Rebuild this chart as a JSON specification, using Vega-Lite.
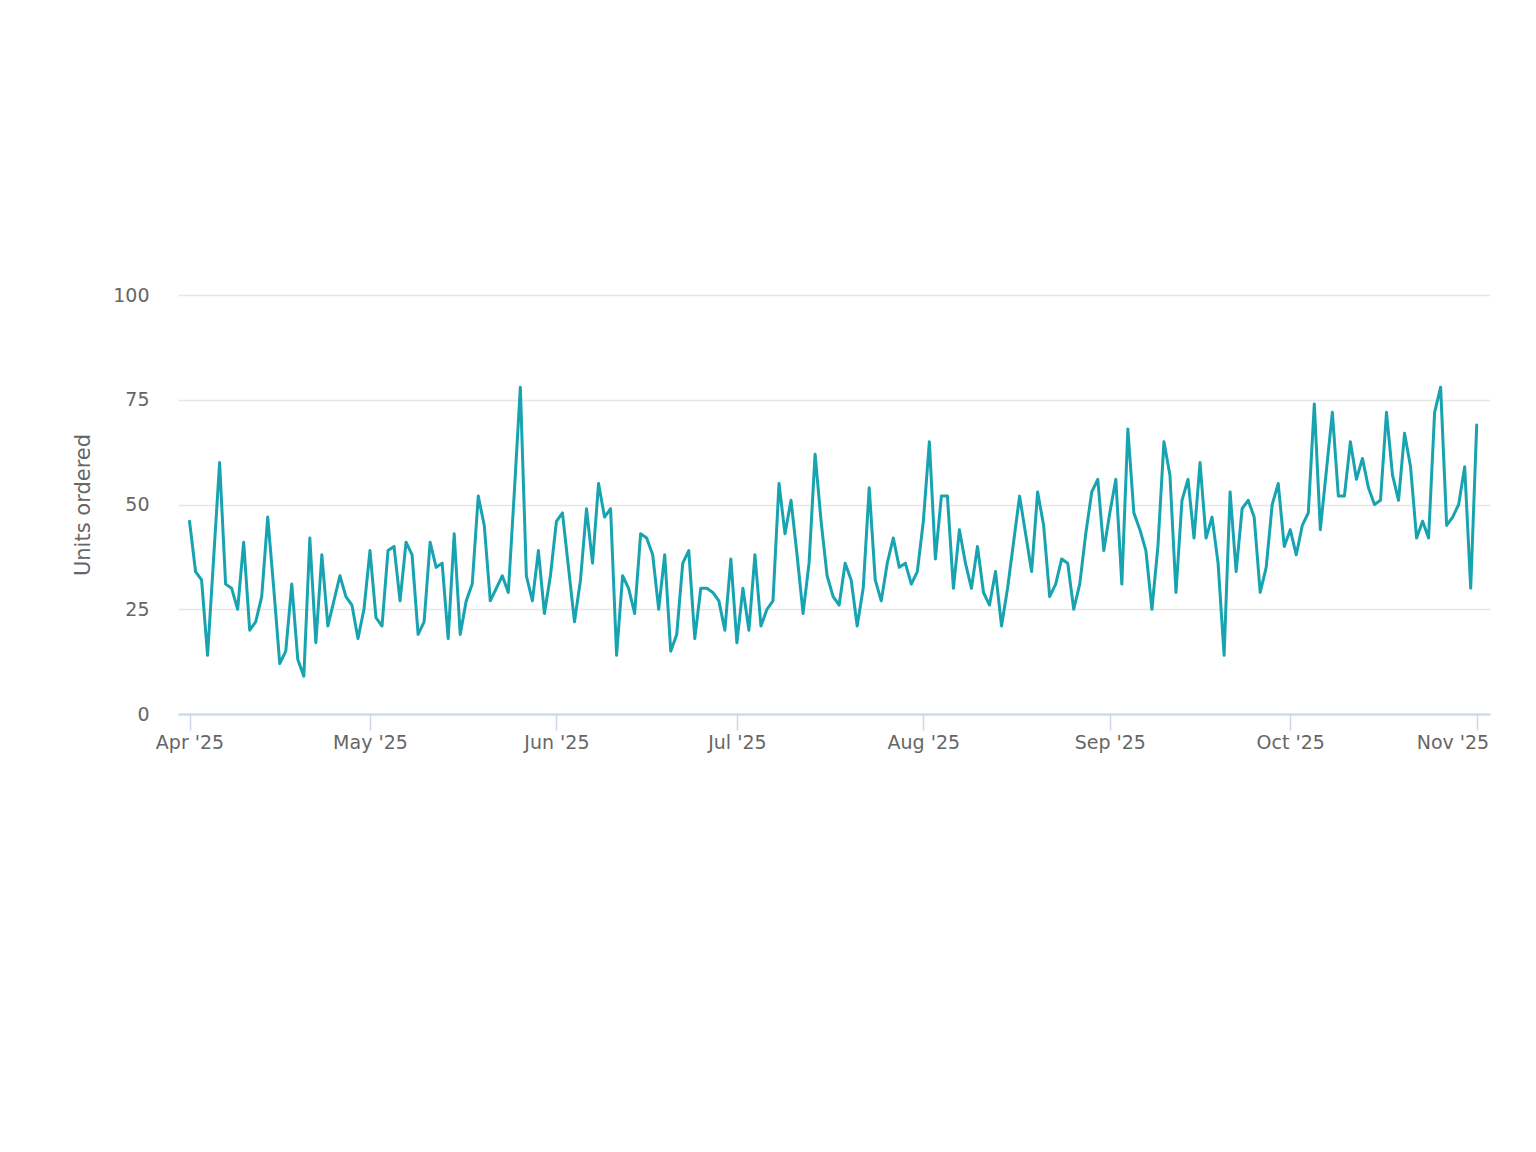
{
  "$schema": "https://vega.github.io/schema/vega-lite/v6.json",
  "description": "Units ordered per day",
  "width": 1312,
  "height": 419,
  "autosize": {"type": "none"},
  "padding": {"left": 178, "top": 295, "right": 46, "bottom": 438},
  "background": "#ffffff",
  "data": {
    "values": [
      {"date": "2025-04-01", "units": 46}, {"date": "2025-04-02", "units": 34}, {"date": "2025-04-03", "units": 32},
      {"date": "2025-04-04", "units": 14}, {"date": "2025-04-05", "units": 37}, {"date": "2025-04-06", "units": 60},
      {"date": "2025-04-07", "units": 31}, {"date": "2025-04-08", "units": 30}, {"date": "2025-04-09", "units": 25},
      {"date": "2025-04-10", "units": 41}, {"date": "2025-04-11", "units": 20}, {"date": "2025-04-12", "units": 22},
      {"date": "2025-04-13", "units": 28}, {"date": "2025-04-14", "units": 47}, {"date": "2025-04-15", "units": 30},
      {"date": "2025-04-16", "units": 12}, {"date": "2025-04-17", "units": 15}, {"date": "2025-04-18", "units": 31},
      {"date": "2025-04-19", "units": 13}, {"date": "2025-04-20", "units": 9}, {"date": "2025-04-21", "units": 42},
      {"date": "2025-04-22", "units": 17}, {"date": "2025-04-23", "units": 38}, {"date": "2025-04-24", "units": 21},
      {"date": "2025-04-25", "units": 27}, {"date": "2025-04-26", "units": 33}, {"date": "2025-04-27", "units": 28},
      {"date": "2025-04-28", "units": 26}, {"date": "2025-04-29", "units": 18}, {"date": "2025-04-30", "units": 25},
      {"date": "2025-05-01", "units": 39}, {"date": "2025-05-02", "units": 23}, {"date": "2025-05-03", "units": 21},
      {"date": "2025-05-04", "units": 39}, {"date": "2025-05-05", "units": 40}, {"date": "2025-05-06", "units": 27},
      {"date": "2025-05-07", "units": 41}, {"date": "2025-05-08", "units": 38}, {"date": "2025-05-09", "units": 19},
      {"date": "2025-05-10", "units": 22}, {"date": "2025-05-11", "units": 41}, {"date": "2025-05-12", "units": 35},
      {"date": "2025-05-13", "units": 36}, {"date": "2025-05-14", "units": 18}, {"date": "2025-05-15", "units": 43},
      {"date": "2025-05-16", "units": 19}, {"date": "2025-05-17", "units": 27}, {"date": "2025-05-18", "units": 31},
      {"date": "2025-05-19", "units": 52}, {"date": "2025-05-20", "units": 45}, {"date": "2025-05-21", "units": 27},
      {"date": "2025-05-22", "units": 30}, {"date": "2025-05-23", "units": 33}, {"date": "2025-05-24", "units": 29},
      {"date": "2025-05-25", "units": 53}, {"date": "2025-05-26", "units": 78}, {"date": "2025-05-27", "units": 33},
      {"date": "2025-05-28", "units": 27}, {"date": "2025-05-29", "units": 39}, {"date": "2025-05-30", "units": 24},
      {"date": "2025-05-31", "units": 33},
      {"date": "2025-06-01", "units": 46}, {"date": "2025-06-02", "units": 48}, {"date": "2025-06-03", "units": 35},
      {"date": "2025-06-04", "units": 22}, {"date": "2025-06-05", "units": 32}, {"date": "2025-06-06", "units": 49},
      {"date": "2025-06-07", "units": 36}, {"date": "2025-06-08", "units": 55}, {"date": "2025-06-09", "units": 47},
      {"date": "2025-06-10", "units": 49}, {"date": "2025-06-11", "units": 14}, {"date": "2025-06-12", "units": 33},
      {"date": "2025-06-13", "units": 30}, {"date": "2025-06-14", "units": 24}, {"date": "2025-06-15", "units": 43},
      {"date": "2025-06-16", "units": 42}, {"date": "2025-06-17", "units": 38}, {"date": "2025-06-18", "units": 25},
      {"date": "2025-06-19", "units": 38}, {"date": "2025-06-20", "units": 15}, {"date": "2025-06-21", "units": 19},
      {"date": "2025-06-22", "units": 36}, {"date": "2025-06-23", "units": 39}, {"date": "2025-06-24", "units": 18},
      {"date": "2025-06-25", "units": 30}, {"date": "2025-06-26", "units": 30}, {"date": "2025-06-27", "units": 29},
      {"date": "2025-06-28", "units": 27}, {"date": "2025-06-29", "units": 20}, {"date": "2025-06-30", "units": 37},
      {"date": "2025-07-01", "units": 17}, {"date": "2025-07-02", "units": 30}, {"date": "2025-07-03", "units": 20},
      {"date": "2025-07-04", "units": 38}, {"date": "2025-07-05", "units": 21}, {"date": "2025-07-06", "units": 25},
      {"date": "2025-07-07", "units": 27}, {"date": "2025-07-08", "units": 55}, {"date": "2025-07-09", "units": 43},
      {"date": "2025-07-10", "units": 51}, {"date": "2025-07-11", "units": 38}, {"date": "2025-07-12", "units": 24},
      {"date": "2025-07-13", "units": 36}, {"date": "2025-07-14", "units": 62}, {"date": "2025-07-15", "units": 46},
      {"date": "2025-07-16", "units": 33}, {"date": "2025-07-17", "units": 28}, {"date": "2025-07-18", "units": 26},
      {"date": "2025-07-19", "units": 36}, {"date": "2025-07-20", "units": 32}, {"date": "2025-07-21", "units": 21},
      {"date": "2025-07-22", "units": 30}, {"date": "2025-07-23", "units": 54}, {"date": "2025-07-24", "units": 32},
      {"date": "2025-07-25", "units": 27}, {"date": "2025-07-26", "units": 36}, {"date": "2025-07-27", "units": 42},
      {"date": "2025-07-28", "units": 35}, {"date": "2025-07-29", "units": 36}, {"date": "2025-07-30", "units": 31},
      {"date": "2025-07-31", "units": 34},
      {"date": "2025-08-01", "units": 46}, {"date": "2025-08-02", "units": 65}, {"date": "2025-08-03", "units": 37},
      {"date": "2025-08-04", "units": 52}, {"date": "2025-08-05", "units": 52}, {"date": "2025-08-06", "units": 30},
      {"date": "2025-08-07", "units": 44}, {"date": "2025-08-08", "units": 36}, {"date": "2025-08-09", "units": 30},
      {"date": "2025-08-10", "units": 40}, {"date": "2025-08-11", "units": 29}, {"date": "2025-08-12", "units": 26},
      {"date": "2025-08-13", "units": 34}, {"date": "2025-08-14", "units": 21}, {"date": "2025-08-15", "units": 30},
      {"date": "2025-08-16", "units": 41}, {"date": "2025-08-17", "units": 52}, {"date": "2025-08-18", "units": 43},
      {"date": "2025-08-19", "units": 34}, {"date": "2025-08-20", "units": 53}, {"date": "2025-08-21", "units": 45},
      {"date": "2025-08-22", "units": 28}, {"date": "2025-08-23", "units": 31}, {"date": "2025-08-24", "units": 37},
      {"date": "2025-08-25", "units": 36}, {"date": "2025-08-26", "units": 25}, {"date": "2025-08-27", "units": 31},
      {"date": "2025-08-28", "units": 43}, {"date": "2025-08-29", "units": 53}, {"date": "2025-08-30", "units": 56},
      {"date": "2025-08-31", "units": 39},
      {"date": "2025-09-01", "units": 48}, {"date": "2025-09-02", "units": 56}, {"date": "2025-09-03", "units": 31},
      {"date": "2025-09-04", "units": 68}, {"date": "2025-09-05", "units": 48}, {"date": "2025-09-06", "units": 44},
      {"date": "2025-09-07", "units": 39}, {"date": "2025-09-08", "units": 25}, {"date": "2025-09-09", "units": 40},
      {"date": "2025-09-10", "units": 65}, {"date": "2025-09-11", "units": 57}, {"date": "2025-09-12", "units": 29},
      {"date": "2025-09-13", "units": 51}, {"date": "2025-09-14", "units": 56}, {"date": "2025-09-15", "units": 42},
      {"date": "2025-09-16", "units": 60}, {"date": "2025-09-17", "units": 42}, {"date": "2025-09-18", "units": 47},
      {"date": "2025-09-19", "units": 36}, {"date": "2025-09-20", "units": 14}, {"date": "2025-09-21", "units": 53},
      {"date": "2025-09-22", "units": 34}, {"date": "2025-09-23", "units": 49}, {"date": "2025-09-24", "units": 51},
      {"date": "2025-09-25", "units": 47}, {"date": "2025-09-26", "units": 29}, {"date": "2025-09-27", "units": 35},
      {"date": "2025-09-28", "units": 50}, {"date": "2025-09-29", "units": 55}, {"date": "2025-09-30", "units": 40},
      {"date": "2025-10-01", "units": 44}, {"date": "2025-10-02", "units": 38}, {"date": "2025-10-03", "units": 45},
      {"date": "2025-10-04", "units": 48}, {"date": "2025-10-05", "units": 74}, {"date": "2025-10-06", "units": 44},
      {"date": "2025-10-07", "units": 58}, {"date": "2025-10-08", "units": 72}, {"date": "2025-10-09", "units": 52},
      {"date": "2025-10-10", "units": 52}, {"date": "2025-10-11", "units": 65}, {"date": "2025-10-12", "units": 56},
      {"date": "2025-10-13", "units": 61}, {"date": "2025-10-14", "units": 54}, {"date": "2025-10-15", "units": 50},
      {"date": "2025-10-16", "units": 51}, {"date": "2025-10-17", "units": 72}, {"date": "2025-10-18", "units": 57},
      {"date": "2025-10-19", "units": 51}, {"date": "2025-10-20", "units": 67}, {"date": "2025-10-21", "units": 59},
      {"date": "2025-10-22", "units": 42}, {"date": "2025-10-23", "units": 46}, {"date": "2025-10-24", "units": 42},
      {"date": "2025-10-25", "units": 72}, {"date": "2025-10-26", "units": 78}, {"date": "2025-10-27", "units": 45},
      {"date": "2025-10-28", "units": 47}, {"date": "2025-10-29", "units": 50}, {"date": "2025-10-30", "units": 59},
      {"date": "2025-10-31", "units": 30},
      {"date": "2025-11-01", "units": 69}
    ]
  },
  "mark": {"type": "line", "color": "#17a3af", "strokeWidth": 3, "strokeJoin": "round", "strokeCap": "round"},
  "encoding": {
    "x": {
      "field": "date",
      "type": "temporal",
      "scale": {
        "type": "utc",
        "domain": [
          {"year": 2025, "month": 3, "date": 30, "hours": 2, "utc": true},
          {"year": 2025, "month": 11, "date": 3, "hours": 5, "utc": true}
        ]
      },
      "axis": {
        "title": null,
        "format": "%b '%y",
        "tickCount": {"interval": "month", "step": 1},
        "grid": false,
        "domainColor": "#ccd6eb",
        "domainWidth": 2,
        "tickColor": "#ccd6eb",
        "tickWidth": 1.5,
        "tickSize": 16,
        "labelFlush": false,
        "labelBound": false,
        "labelOverlap": false,
        "labelPadding": 3,
        "labelFont": "DejaVu Sans",
        "labelFontSize": 19,
        "labelColor": "#666666",
        "labelAlign": {"condition": {"test": "utcmonth(datum.value) === 10", "value": "right"}, "value": "center"},
        "labelOffset": {"condition": {"test": "utcmonth(datum.value) === 10", "value": 12}, "value": 0}
      }
    },
    "y": {
      "field": "units",
      "type": "quantitative",
      "scale": {"domain": [0, 100], "nice": false},
      "axis": {
        "title": "Units ordered",
        "values": [0, 25, 50, 75, 100],
        "domain": false,
        "ticks": false,
        "tickSize": 0,
        "grid": true,
        "gridColor": "#e6e6e6",
        "gridWidth": 1.5,
        "labelPadding": 29,
        "labelFont": "DejaVu Sans",
        "labelFontSize": 19,
        "labelColor": "#666666",
        "titleFont": "DejaVu Sans",
        "titleFontSize": 21,
        "titleFontWeight": "normal",
        "titleColor": "#666666",
        "titlePadding": 19
      }
    }
  },
  "config": {
    "view": {"stroke": null}
  }
}
